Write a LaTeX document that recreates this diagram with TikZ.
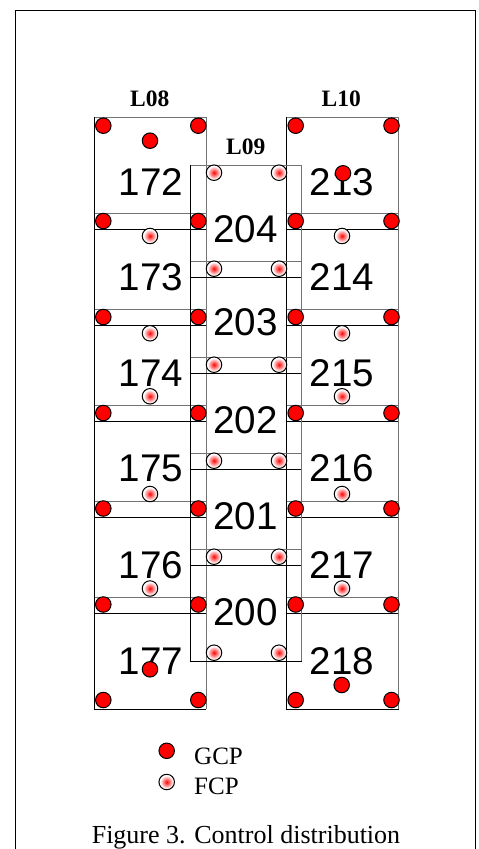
\documentclass[tikz,border=0pt]{standalone}
\usepackage{fontspec}
\setmainfont{Liberation Serif}
\newfontfamily\numfont{Liberation Sans}
\pgfdeclareradialshading{fcpshade}{\pgfpoint{0bp}{0bp}}{color(0bp)=(red); color(3bp)=(red!85); color(21bp)=(white); color(50bp)=(white)}
\begin{document}
\begin{tikzpicture}[x=1pt,y=-1pt,
  imgbox/.style={rectangle, draw=none, minimum width=112pt, minimum height=112pt, inner sep=0pt, outer sep=0pt},
  midbox/.style={imgbox, minimum width=111pt},
  edgelight/.style={draw=black!55, line width=0.9pt},
  edgedark/.style={draw=black, line width=0.9pt},
  gcp/.style={circle, draw=black, line width=1pt, fill=red, minimum size=15.5pt, inner sep=0pt},
  fcp/.style={circle, draw=black, line width=1pt, shading=fcpshade, minimum size=15.5pt, inner sep=0pt},
  num/.style={font=\numfont\fontsize{38.6}{40}\selectfont, anchor=base, inner sep=0pt},
  stripname/.style={font=\bfseries\fontsize{23.5}{25}\selectfont, anchor=base, inner sep=0pt},
  legendtext/.style={font=\fontsize{25}{27}\selectfont, anchor=base west, inner sep=0pt},
  captiontext/.style={font=\fontsize{26}{28}\selectfont, anchor=base, inner sep=0pt}]
\useasboundingbox (0,0) rectangle (479,849);
% frame
\draw[line width=1.6pt] (15.5,849) -- (15.5,10.5) -- (475.5,10.5) -- (475.5,849);

% image footprints
\foreach \i in {0,...,5}{
  \pgfmathtruncatemacro\na{172+\i}
  \pgfmathtruncatemacro\nb{213+\i}
  \node[imgbox] (i\na) at (150.3,{173.3+96*\i}) {};
  \node[imgbox] (i\nb) at (342.5,{173.3+96*\i}) {};
  \draw[edgelight] (i\na.north west) -- (i\na.north east) -- (i\na.south east);
  \draw[edgedark] (i\na.north west) -- (i\na.south west) -- (i\na.south east);
  \draw[edgelight] (i\nb.north west) -- (i\nb.north east) -- (i\nb.south east);
  \draw[edgedark] (i\nb.north west) -- (i\nb.south west) -- (i\nb.south east);
}
\foreach \i in {0,...,4}{
  \pgfmathtruncatemacro\nc{204-\i}
  \node[midbox] (i\nc) at (246.2,{221+96*\i}) {};
  \draw[edgelight] (i\nc.north west) -- (i\nc.north east) -- (i\nc.south east);
  \draw[edgedark] (i\nc.north west) -- (i\nc.south west) -- (i\nc.south east);
}

% strip names
\node[stripname] (l08) at (149.7,106.7) {L08};
\node[stripname] (l09) at (245.8,154) {L09};
\node[stripname] (l10) at (341.3,106.7) {L10};

% image numbers
\foreach \n/\y in {172/195,173/290,174/386.7,175/481.7,176/578.3,177/674}{
  \node[num] (t\n) at (150.8,\y) {\n};
}
\foreach \n/\y in {213/195,214/290,215/386.7,216/481.7,217/578.3,218/674}{
  \node[num] (t\n) at (342,\y) {\n};
}
\foreach \n/\y in {204/242.6,203/335,202/433,201/529.3,200/625.7}{
  \node[num] (t\n) at (245.6,\y) {\n};
}

% ground control points at image corners
\foreach \y [count=\k] in {125.7,221,317,413,508.5,604.5,700}{
  \node[gcp] (ga\k) at (103.3,\y) {};
  \node[gcp] (gb\k) at (198.3,\y) {};
  \node[gcp] (gc\k) at (295.7,\y) {};
  \node[gcp] (gd\k) at (391.5,\y) {};
}
\node[gcp] (g172) at (150,140.7) {};
\node[gcp] (g177) at (150,669.3) {};
\node[gcp] (g213) at (343,173.3) {};
\node[gcp] (g218) at (341.7,685) {};

% further control points
\foreach \y [count=\k] in {236,333.3,396.3,494,588.5}{
  \node[fcp] (fa\k) at (150,\y) {};
  \node[fcp] (fb\k) at (342,\y) {};
}
\foreach \i in {0,...,5}{
  \node[fcp] (fl\i) at (214,{172.7+96*\i}) {};
  \node[fcp] (fr\i) at (279,{172.7+96*\i}) {};
}

% legend
\node[gcp] (lgcp) at (166.7,750.8) {};
\node[legendtext] (lgcpt) at (194,764.3) {GCP};
\node[fcp] (lfcp) at (166.7,782) {};
\node[legendtext] (lfcpt) at (194,794.3) {FCP};

% caption
\node[captiontext] (cap) at (246,843.3) {Figure 3. Control distribution};
\end{tikzpicture}
\end{document}
